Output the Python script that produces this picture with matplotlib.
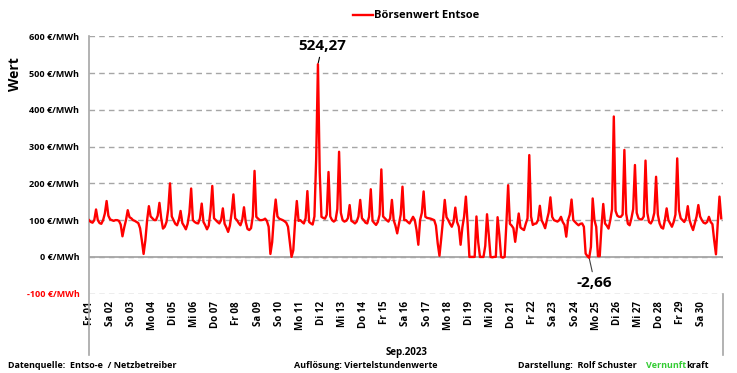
import matplotlib
matplotlib.use("Agg")
import matplotlib.pyplot as plt
import numpy as np

plt.rcParams['font.family'] = ['Open Sans', 'DejaVu Sans']
plt.rcParams['font.weight'] = 'bold'

# Sep 2023 exchange price, one value every 2 hours, EUR/MWh
hours = [0, 2, 4, 6, 8, 10, 12, 14, 16, 18, 20, 22]
price_by_day = [
    [100, 95, 93, 100, 129, 100, 92, 90, 100, 118, 152, 112],      # Fr 01
    [102, 100, 98, 100, 100, 98, 88, 56, 80, 100, 127, 108],       # Sa 02
    [105, 100, 98, 95, 92, 78, 45, 8, 45, 100, 138, 110],          # So 03
    [105, 100, 100, 112, 147, 105, 77, 82, 95, 130, 200, 110],     # Mo 04
    [100, 90, 86, 100, 125, 92, 84, 75, 90, 120, 186, 100],        # Di 05
    [95, 92, 91, 105, 145, 95, 86, 75, 85, 125, 193, 105],         # Mi 06
    [100, 95, 91, 100, 132, 90, 80, 68, 85, 120, 170, 105],        # Do 07
    [100, 92, 86, 100, 135, 95, 76, 73, 78, 110, 234, 109],        # Fr 08
    [104, 100, 100, 101, 104, 98, 82, 8, 40, 110, 156, 110],       # Sa 09
    [104, 102, 100, 97, 93, 82, 40, 0, 18, 95, 152, 98],           # So 10
    [100, 95, 91, 105, 179, 95, 91, 88, 110, 267, 524.27, 230],    # Mo 11
    [109, 106, 104, 115, 231, 110, 100, 96, 100, 130, 286, 120],   # Di 12
    [100, 96, 98, 105, 141, 98, 95, 91, 96, 110, 155, 105],        # Mi 13
    [100, 93, 91, 109, 184, 98, 92, 87, 95, 115, 238, 110],        # Do 14
    [105, 100, 96, 105, 155, 100, 85, 64, 90, 115, 191, 100],      # Fr 15
    [100, 95, 91, 100, 109, 100, 73, 33, 100, 120, 178, 109],      # Sa 16
    [106, 105, 104, 102, 100, 85, 37, 3, 50, 100, 155, 108],       # So 17
    [100, 90, 82, 95, 134, 95, 82, 33, 80, 110, 164, 90],          # Mo 18
    [0, 0, 0, 0, 110, 40, 0, 0, 0, 30, 116, 60],                   # Di 19
    [0, -1, 0, 0, 108, 60, 0, -2, 0, 90, 195, 90],                 # Mi 20
    [85, 78, 41, 80, 118, 80, 76, 73, 90, 105, 277, 110],          # Do 21
    [87, 90, 91, 100, 139, 100, 90, 78, 100, 120, 162, 109],       # Fr 22
    [100, 98, 96, 100, 109, 95, 87, 55, 100, 115, 156, 100],       # Sa 23
    [95, 90, 86, 90, 91, 82, 9, 2, -2.66, 27, 159, 100],           # So 24
    [82, 2, 2, 82, 144, 91, 85, 77, 100, 130, 382, 125],           # Mo 25
    [112, 109, 109, 115, 291, 118, 90, 86, 105, 130, 250, 120],    # Di 26
    [105, 102, 102, 110, 262, 120, 95, 91, 100, 120, 218, 115],    # Mi 27
    [91, 80, 77, 100, 132, 100, 91, 82, 95, 115, 268, 127],        # Do 28
    [105, 100, 95, 105, 138, 100, 85, 73, 91, 110, 141, 110],      # Fr 29
    [100, 93, 91, 95, 109, 95, 89, 45, 7, 90, 164, 105],           # Sa 30
]
day_labels = ["Fr 01", "Sa 02", "So 03", "Mo 04", "Di 05", "Mi 06", "Do 07", "Fr 08",
              "Sa 09", "So 10", "Mo 11", "Di 12", "Mi 13", "Do 14", "Fr 15", "Sa 16",
              "So 17", "Mo 18", "Di 19", "Mi 20", "Do 21", "Fr 22", "Sa 23", "So 24",
              "Mo 25", "Di 26", "Mi 27", "Do 28", "Fr 29", "Sa 30"]
yticks = [-100, 0, 100, 200, 300, 400, 500, 600]

W, H = 737, 373
grey = '#a6a6a6'

price = np.array(price_by_day, dtype=float).ravel()
t = np.array([d + h / 24 for d in range(len(price_by_day)) for h in hours])

fig = plt.figure(figsize=(W / 100, H / 100), dpi=100)
ax = fig.add_axes([89 / W, 1 - 294 / H, (723 - 89) / W, (294 - 36) / H])

line, = ax.plot(t, price, color='#ff0000', lw=1.7, zorder=3, label='Börsenwert Entsoe')

ax.set_xlim(0, 30)
ax.set_ylim(-101, 601)
ax.set_yticks(yticks)
ax.set_yticklabels([f"{v} €/MWh" for v in yticks], fontsize=6.5, fontweight='bold')
ax.get_yticklabels()[0].set_color('#ff0000')
ax.set_xticks(np.arange(len(day_labels)))
ax.set_xticklabels(day_labels, rotation=90, fontsize=7, fontweight='bold', va='top')
ax.tick_params(axis='both', length=0)
ax.tick_params(axis='y', pad=7)
ax.tick_params(axis='x', pad=5)

for s in ax.spines.values():
    s.set_visible(False)
ax.yaxis.grid(True, color=grey, lw=1, ls=(0, (4, 3)))
ax.xaxis.grid(False)
ax.axhline(0, color=grey, lw=1.3, zorder=2)
# axis lines running down around the date labels
ax.plot([0, 0], [1, -0.236], transform=ax.transAxes, color=grey, lw=1.2, clip_on=False)
ax.plot([1, 1], [0, -0.236], transform=ax.transAxes, color=grey, lw=1.2, clip_on=False)

ax.set_xlabel("Sep.2023", fontsize=7, fontweight='bold', labelpad=12)
fig.text(15 / W, 1 - 74 / H, "Wert", rotation=90, fontsize=10, fontweight='bold',
         ha='center', va='center')

# max / min labels
i_max = int(np.argmax(price))
i_min = int(np.argmin(price))
ax.annotate(f"{price[i_max]:.2f}".replace('.', ','), xy=(t[i_max], price[i_max]),
            xytext=(3, 13), textcoords='offset points', ha='center', va='center',
            fontsize=11, fontweight='bold',
            arrowprops=dict(arrowstyle='-', color='black', lw=0.8, shrinkA=1, shrinkB=1))
ax.annotate(f"{price[i_min]:.2f}".replace('.', ','), xy=(t[i_min], price[i_min]),
            xytext=(4, -18), textcoords='offset points', ha='center', va='center',
            fontsize=11, fontweight='bold',
            arrowprops=dict(arrowstyle='-', color='#404040', lw=0.8, shrinkA=1, shrinkB=1))

fig.legend(handles=[line], loc='center', bbox_to_anchor=(416 / W, 1 - 16 / H),
           frameon=False, fontsize=8, handlelength=1.8, handletextpad=0.1,
           prop={'weight': 'bold', 'size': 8})

yb = 1 - 366 / H
fig.text(8 / W, yb, "Datenquelle:  Entso-e  / Netzbetreiber", fontsize=6.5, va='center')
fig.text(294 / W, yb, "Auflösung: Viertelstundenwerte", fontsize=6.5, va='center')
fig.text(518 / W, yb, "Darstellung:  Rolf Schuster", fontsize=6.5, va='center')
v = fig.text(646 / W, yb, "Vernunft", fontsize=6.5, va='center', color='#33cc33')
fig.canvas.draw()
bb = v.get_window_extent()
fig.text(bb.x1 / W, yb, "kraft", fontsize=6.5, va='center')

fig.savefig("out.png", dpi=100)
